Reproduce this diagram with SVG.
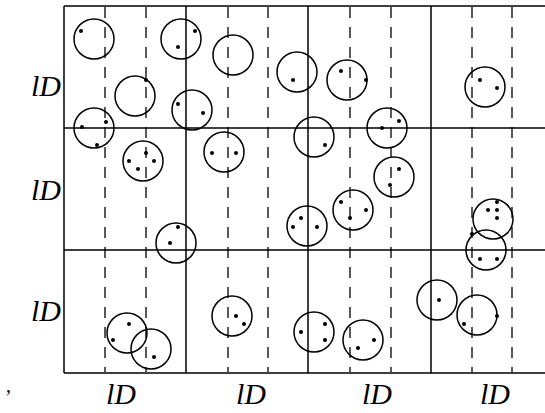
<svg xmlns="http://www.w3.org/2000/svg" width="545" height="413" viewBox="0 0 545 413">
<style>
.grid{stroke:#000;stroke-width:1.5;fill:none}
.dash{stroke:#000;stroke-width:1.3;stroke-dasharray:11,9;fill:none}
.c{stroke:#000;stroke-width:1.5;fill:none}
.d{fill:#000}
.lbl{font-family:"Liberation Serif",serif;font-style:italic;font-size:30px;fill:#000}
</style>
<rect width="545" height="413" fill="#fff"/>
<g id="grid">
<path class="grid" d="M64,6 H553 M64,128 H553 M64,250 H553 M64,373 H553 M64,6 V373 M186,6 V373 M308,6 V373 M431,6 V373"/>
<path class="dash" d="M105,7 V372 M146,7 V372 M228,7 V372 M268,7 V372 M350,7 V372 M391,7 V372 M472,7 V372 M512,7 V372"/>
</g>
<g id="c1"><circle class="c" cx="94" cy="39" r="20"/><circle class="d" cx="81" cy="31" r="2"/></g>
<g id="c2"><circle class="c" cx="135" cy="96" r="20"/><circle class="d" cx="146" cy="80" r="2"/></g>
<g id="c3"><circle class="c" cx="181" cy="39" r="20"/><circle class="d" cx="195" cy="31" r="2"/><circle class="d" cx="178" cy="47" r="2"/></g>
<g id="c4"><circle class="c" cx="94" cy="128" r="20"/><circle class="d" cx="82" cy="127" r="2"/><circle class="d" cx="106" cy="122" r="2"/><circle class="d" cx="97" cy="145" r="2"/></g>
<g id="c5"><circle class="c" cx="192" cy="110" r="20"/><circle class="d" cx="178" cy="104" r="2"/><circle class="d" cx="203" cy="113" r="2"/></g>
<g id="c6"><circle class="c" cx="233" cy="55" r="20"/></g>
<g id="c7"><circle class="c" cx="297" cy="72" r="20"/><circle class="d" cx="293" cy="80" r="2"/></g>
<g id="c8"><circle class="c" cx="347" cy="80" r="20"/><circle class="d" cx="341" cy="71" r="2"/><circle class="d" cx="366" cy="80" r="2"/></g>
<g id="c9"><circle class="c" cx="387" cy="128" r="20"/><circle class="d" cx="382" cy="128" r="2"/><circle class="d" cx="399" cy="121" r="2"/></g>
<g id="c10"><circle class="c" cx="314" cy="137" r="20"/><circle class="d" cx="325" cy="145" r="2"/></g>
<g id="c11"><circle class="c" cx="485" cy="87" r="20"/><circle class="d" cx="480" cy="80" r="2"/><circle class="d" cx="497" cy="88" r="2"/></g>
<g id="c12"><circle class="c" cx="143" cy="161" r="20"/><circle class="d" cx="146" cy="153" r="2"/><circle class="d" cx="129" cy="161" r="2"/><circle class="d" cx="154" cy="161" r="2"/><circle class="d" cx="138" cy="169" r="2"/></g>
<g id="c13"><circle class="c" cx="176" cy="243" r="20"/><circle class="d" cx="178" cy="227" r="2"/><circle class="d" cx="170" cy="243" r="2"/></g>
<g id="c14"><circle class="c" cx="224" cy="152" r="20"/><circle class="d" cx="212" cy="153" r="2"/><circle class="d" cx="236" cy="153" r="2"/></g>
<g id="c15"><circle class="c" cx="307" cy="226" r="20"/><circle class="d" cx="293" cy="227" r="2"/><circle class="d" cx="301" cy="218" r="2"/><circle class="d" cx="317" cy="227" r="2"/></g>
<g id="c16"><circle class="c" cx="353" cy="210" r="20"/><circle class="d" cx="341" cy="202" r="2"/><circle class="d" cx="366" cy="210" r="2"/><circle class="d" cx="350" cy="218" r="2"/></g>
<g id="c17"><circle class="c" cx="394" cy="177" r="20"/><circle class="d" cx="399" cy="169" r="2"/><circle class="d" cx="390" cy="185" r="2"/></g>
<g id="c18"><circle class="c" cx="493" cy="219" r="20"/><circle class="d" cx="497" cy="202" r="2"/><circle class="d" cx="488" cy="210" r="2"/><circle class="d" cx="497" cy="210" r="2"/><circle class="d" cx="497" cy="218" r="2"/></g>
<g id="c19"><circle class="c" cx="486" cy="250" r="20"/><circle class="d" cx="472" cy="234" r="2"/><circle class="d" cx="480" cy="259" r="2"/><circle class="d" cx="497" cy="259" r="2"/></g>
<g id="c20"><circle class="c" cx="127" cy="333" r="20"/><circle class="d" cx="129" cy="324" r="2"/><circle class="d" cx="113" cy="340" r="2"/></g>
<g id="c21"><circle class="c" cx="151" cy="349" r="20"/><circle class="d" cx="154" cy="357" r="2"/></g>
<g id="c22"><circle class="c" cx="232" cy="316" r="20"/><circle class="d" cx="236" cy="316" r="2"/><circle class="d" cx="244" cy="324" r="2"/></g>
<g id="c23"><circle class="c" cx="314" cy="332" r="20"/><circle class="d" cx="301" cy="332" r="2"/><circle class="d" cx="325" cy="324" r="2"/><circle class="d" cx="325" cy="340" r="2"/></g>
<g id="c24"><circle class="c" cx="363" cy="340" r="20"/><circle class="d" cx="374" cy="340" r="2"/><circle class="d" cx="358" cy="348" r="2"/></g>
<g id="c25"><circle class="c" cx="437" cy="300" r="20"/><circle class="d" cx="439" cy="300" r="2"/></g>
<g id="c26"><circle class="c" cx="477" cy="315" r="20"/><circle class="d" cx="497" cy="316" r="2"/><circle class="d" cx="464" cy="324" r="2"/></g>
<g id="labels">
<text class="lbl" x="31" y="96">lD</text>
<text class="lbl" x="31" y="200">lD</text>
<text class="lbl" x="31" y="321">lD</text>
<text class="lbl" x="106" y="404">lD</text>
<text class="lbl" x="236" y="404">lD</text>
<text class="lbl" x="362" y="404">lD</text>
<text class="lbl" x="480" y="404">lD</text>
<text class="lbl" x="6" y="392" style="font-style:normal;font-size:20px">,</text>
</g>
</svg>
